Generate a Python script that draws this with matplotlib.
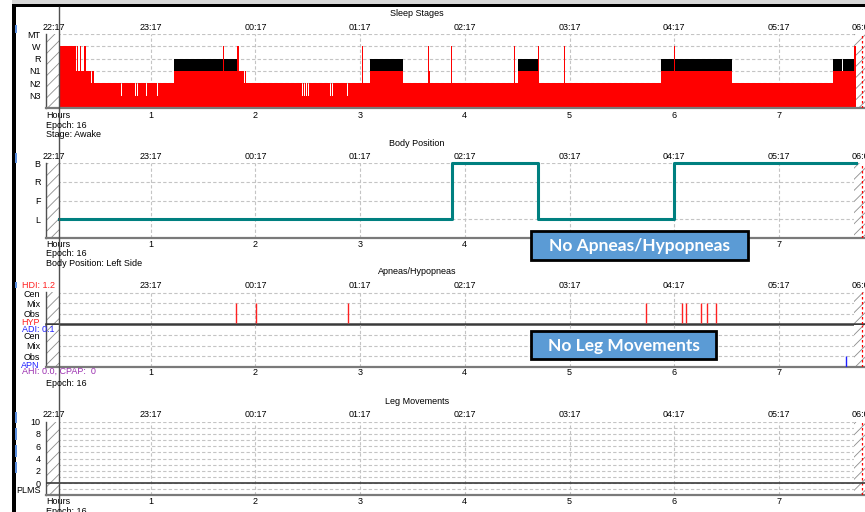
import matplotlib
matplotlib.use('Agg')
import matplotlib.pyplot as plt
from matplotlib.patches import Rectangle
from matplotlib.lines import Line2D

plt.rcParams['font.family'] = ['Liberation Sans', 'DejaVu Sans']
plt.rcParams['hatch.linewidth'] = 0.6

# ---- data (hours since 22:17) ----
clock_labels = ['22:17', '23:17', '00:17', '01:17', '02:17', '03:17', '04:17', '05:17', '06:05']
clock_hours = [0, 1, 2, 3, 4, 5, 6, 7, 7.8]
hour_ticks = [1, 2, 3, 4, 5, 6, 7]

stage_names = ['N3', 'N2', 'N1', 'R', 'W', 'MT']
stage_start = [0.124, 0.284, 0.293, 0.308, 0.325, 0.337, 0.363, 0.385, 0.430, 0.444, 0.454,
               0.716, 0.726, 0.847, 0.857, 0.869, 0.883, 0.952, 0.962, 1.060, 1.070,
               1.218, 1.686, 1.700, 1.824, 1.839, 1.888, 1.898, 1.910,
               2.445, 2.455, 2.464, 2.474, 2.480, 2.490, 2.505, 2.515,
               2.710, 2.719, 2.729, 2.738, 2.878, 2.887,
               3.018, 3.032, 3.095, 3.410, 3.649, 3.658, 3.668, 3.871, 3.881,
               4.473, 4.482, 4.508, 4.699, 4.709, 4.947, 4.957,
               5.871, 6.000, 6.009, 6.555, 7.520, 7.603, 7.612, 7.717]
stage_code = ['W', 'N1', 'W', 'N1', 'W', 'N1', 'W', 'N1', 'N2', 'N1', 'N2',
              'N3', 'N2', 'N3', 'N2', 'N3', 'N2', 'N3', 'N2', 'N3', 'N2',
              'R', 'W', 'R', 'W', 'N1', 'N2', 'N1', 'N2',
              'N3', 'N2', 'N3', 'N2', 'N3', 'N2', 'N3', 'N2',
              'N3', 'N2', 'N3', 'N2', 'N3', 'N2',
              'W', 'N2', 'R', 'N2', 'W', 'N1', 'N2', 'W', 'N2',
              'W', 'N2', 'R', 'W', 'N2', 'W', 'N2',
              'R', 'W', 'R', 'N2', 'R', 'N1', 'R', 'W']
record_end = 7.732

pos_names = ['L', 'F', 'R', 'B']
pos_start = [0.124, 3.873, 4.700, 5.998]
pos_code = ['L', 'B', 'L', 'B']

event_names = ['Obs', 'Mix', 'Cen']
hypopnea_times = [1.818, 2.003, 2.884, 5.734, 6.079, 6.116, 6.253, 6.310, 6.396]
apnea_times = [7.638]

plms_ticks = [0, 2, 4, 6, 8, 10]

cursor_hour = 0.125
excl_left = 0.12
excl_right = 7.72
end_marker = 7.79

# ---- layout ----
W, H = 865, 512
PXH = 104.7
X0 = 46
XMAX = 7.85

fig = plt.figure(figsize=(W / 100, H / 100), dpi=100)


def fpos(x, y):
    return x / W, 1 - y / H


def ftext(x, y, s, **kw):
    kw.setdefault('fontsize', 6.5)
    kw.setdefault('va', 'center')
    fig.text(*fpos(x, y), s, **kw)


def make_axes(top, bottom, ylim, ticks, labels, hgrid):
    ax = fig.add_axes([X0 / W, 1 - bottom / H, XMAX * PXH / W, (bottom - top) / H])
    ax.set_xlim(0, XMAX)
    ax.set_ylim(*ylim)
    ax.patch.set_alpha(0)
    for s in ['top', 'right']:
        ax.spines[s].set_visible(False)
    ax.spines['left'].set_color('#505050')
    ax.spines['left'].set_linewidth(1)
    ax.spines['bottom'].set_color('#7a7a7a')
    ax.spines['bottom'].set_linewidth(1.6)
    ax.set_xticks([])
    ax.set_yticks(ticks, labels)
    ax.tick_params(length=0, labelsize=6.5, pad=4)
    for h in hour_ticks:
        ax.axvline(h, color='#c4c4c4', ls=(0, (3, 2)), lw=0.8, zorder=0)
    for y in hgrid:
        ax.axhline(y, color='#c4c4c4', ls=(0, (3, 2)), lw=0.8, zorder=0)
    ax.add_patch(Rectangle((0, ylim[0]), excl_left, ylim[1] - ylim[0], facecolor='white',
                           edgecolor='#8c8c8c', hatch='///', lw=0, zorder=1))
    ax.add_patch(Rectangle((excl_right, ylim[0]), XMAX - excl_right, ylim[1] - ylim[0],
                           facecolor='white', edgecolor='#8c8c8c', hatch='///', lw=0, zorder=1))
    ax.axvline(end_marker, color='red', ls=(0, (2, 2)), lw=0.9, zorder=3)
    return ax


def clock_row(ax):
    for i, (h, lab) in enumerate(zip(clock_hours, clock_labels)):
        ax.annotate(lab, xy=(h, 1), xycoords=('data', 'axes fraction'), xytext=(-3 if i == 0 else 0, 7),
                    textcoords='offset pixels', ha='left' if i == 0 else 'center', va='center',
                    fontsize=6.5, annotation_clip=False)


def hours_row(ax, off=7, hours_label=True):
    if hours_label:
        ax.annotate('Hours', xy=(0, 0), xycoords=('data', 'axes fraction'), xytext=(0, -off),
                    textcoords='offset pixels', ha='left', va='center', fontsize=6.5)
    for h in hour_ticks:
        ax.annotate(str(h), xy=(h, 0), xycoords=('data', 'axes fraction'), xytext=(0, -off),
                    textcoords='offset pixels', ha='center', va='center', fontsize=6.5)


# ---- window chrome ----
fig.patches.append(Rectangle(fpos(12, 4), (W - 12) / W, 4 / H, transform=fig.transFigure,
                             facecolor='#d8d8d8', lw=0))
fig.patches.append(Rectangle(fpos(12, 7), (W - 12) / W, 3 / H, transform=fig.transFigure,
                             facecolor='black', lw=0))
fig.patches.append(Rectangle(fpos(12, H), 4 / W, (H - 4) / H, transform=fig.transFigure,
                             facecolor='black', lw=0))
for y0, y1 in [(25, 33), (153, 163), (282, 288), (412, 423), (428, 440), (445, 457), (462, 473)]:
    fig.patches.append(Rectangle(fpos(15, y1), 2.5 / W, (y1 - y0) / H, transform=fig.transFigure,
                                 facecolor='#5b8fe0', lw=0))

# ---- Sleep stages ----
ftext(417, 14, 'Sleep Stages', ha='center')
ax1 = make_axes(34, 108, (0, 6), range(1, 7), stage_names, [1, 2, 3, 4, 5, 6])
lvl = {n: i + 1 for i, n in enumerate(stage_names)}
xs = stage_start + [record_end]
red_top = [lvl['N1'] if c == 'R' else lvl[c] for c in stage_code]
black_top = [lvl['R'] if c == 'R' else lvl['N1'] for c in stage_code]
ax1.fill_between(xs, 0, red_top + [red_top[-1]], step='post', color='#ff0000', lw=0, zorder=2)
ax1.fill_between(xs, lvl['N1'], black_top + [black_top[-1]], step='post', color='black', lw=0, zorder=2)
clock_row(ax1)
hours_row(ax1)
ftext(X0, 125, 'Epoch: 16')
ftext(X0, 134.5, 'Stage: Awake')

# ---- Body position ----
ftext(417, 144, 'Body Position', ha='center')
ax2 = make_axes(163.3, 237.7, (0, 4), range(1, 5), pos_names, [1, 2, 3, 4])
plvl = {n: i + 1 for i, n in enumerate(pos_names)}
py = [plvl[c] for c in pos_code]
ax2.step(pos_start + [record_end], py + [py[-1]], where='post', color='#008080', lw=2.2,
         zorder=4, clip_on=False)
clock_row(ax2)
hours_row(ax2, off=6.5)
ftext(X0, 254, 'Epoch: 16')
ftext(X0, 264, 'Body Position: Left Side')

# ---- Apneas / Hypopneas ----
ftext(417, 271, 'Apneas/Hypopneas', ha='center')
ax3a = make_axes(292, 324, (0, 3.1), [1, 2, 3], event_names, [1, 2, 3])
ax3a.spines['bottom'].set_color('#3a3a3a')
ax3a.spines['bottom'].set_linewidth(1.8)
ax3a.vlines(hypopnea_times, 0.1, 2, color='#ff2020', lw=1, zorder=4)
ax3b = make_axes(324.5, 366.7, (0, 4), [1, 2, 3], event_names, [1, 2, 3])
ax3b.vlines(apnea_times, 0, 1.05, color='#2020ff', lw=1, zorder=4)
clock_row(ax3a)
ax3a.texts[0].set_visible(False)
hours_row(ax3b, off=6, hours_label=False)
ftext(22, 285.7, 'HDI: 1.2', color='#ff2020',
      bbox=dict(facecolor='white', edgecolor='none', pad=0.3))
ftext(21, 322.7, 'HYP', color='#ff2020')
ftext(22, 330, 'ADI: 0.1', color='#2020ff')
ftext(21, 365, 'APN', color='#2020ff')
ftext(22, 371.5, 'AHI: 0.0, CPAP:  0', color='#9b30b0')
ftext(X0, 383.3, 'Epoch: 16')

# ---- Leg movements ----
ftext(417, 401, 'Leg Movements', ha='center')
ax4 = make_axes(421.7, 495.3, (-2, 10), plms_ticks + [-1], [str(t) for t in plms_ticks] + ['PLMS'],
                list(range(-1, 11)))
ax4.axhline(0, color='#3a3a3a', lw=1.2, zorder=3)
clock_row(ax4)
hours_row(ax4, off=6.5)
ftext(X0, 512, 'Epoch: 16')

# ---- cursor line at current epoch ----
cx = ax1.transData.transform((cursor_hour, 0))[0] / W
fig.lines.append(Line2D([cx, cx], [0, 1 - 7 / H], transform=fig.transFigure, color='#505050', lw=1))

# ---- overlay callouts ----
for (x0, y0, x1, y1), txt in [((531, 231, 748, 260), 'No Apneas/Hypopneas'),
                              ((531, 331, 716, 359), 'No Leg Movements')]:
    fig.patches.append(Rectangle(fpos(x0, y1), (x1 - x0) / W, (y1 - y0) / H, transform=fig.transFigure,
                                 facecolor='#5b9bd5', edgecolor='black', lw=2, zorder=10))
    fig.text(*fpos((x0 + x1) / 2, (y0 + y1) / 2 + 0.5), txt, ha='center', va='center', color='white',
             fontsize=12.5, fontweight='bold', family=['Lato', 'DejaVu Sans'], zorder=11)

fig.savefig('out.png', dpi=100)
